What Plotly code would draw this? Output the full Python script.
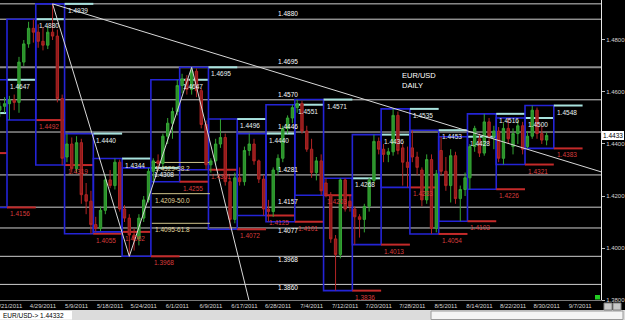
import plotly.graph_objects as go

# ---------------- data ----------------
bars = list(range(-2, 113))
opens = [1.4530, 1.4545, 1.4555, 1.4570, 1.4560, 1.4715, 1.4785, 1.4845, 1.4830, 1.4795,
         1.4780, 1.4830, 1.4815, 1.4575, 1.4350, 1.4400, 1.4305, 1.4405, 1.4205, 1.4180,
         1.4090, 1.4075, 1.4145, 1.4262, 1.4240, 1.4330, 1.4150, 1.4115, 1.4050, 1.4035,
         1.4115, 1.4185, 1.4295, 1.4335, 1.4325, 1.4430, 1.4480, 1.4525, 1.4625, 1.4650,
         1.4610, 1.4680, 1.4605, 1.4475, 1.4320, 1.4335, 1.4400, 1.4425, 1.4255, 1.4110,
         1.4270, 1.4255, 1.4375, 1.4400, 1.4335, 1.4265, 1.4150, 1.4140, 1.4300, 1.4345,
         1.4460, 1.4500, 1.4540, 1.4555, 1.4450, 1.4380, 1.4290, 1.4335, 1.4250, 1.4205,
         1.4035, 1.3975, 1.4262, 1.4180, 1.4150, 1.4120, 1.4110, 1.4160, 1.4260, 1.4410,
         1.4380, 1.4360, 1.4370, 1.4510, 1.4385, 1.4330, 1.4385, 1.4350, 1.4300, 1.4185,
         1.4340, 1.4075, 1.4375, 1.4295, 1.4240, 1.4355, 1.4190, 1.4225, 1.4270, 1.4390,
         1.4420, 1.4365, 1.4485, 1.4430, 1.4450, 1.4345, 1.4460, 1.4390, 1.4440, 1.4470,
         1.4390, 1.4430, 1.4530, 1.4440, 1.4415]
highs = [1.4560, 1.4580, 1.4585, 1.4590, 1.4735, 1.4800, 1.4870, 1.4880, 1.4860, 1.4850,
         1.4850, 1.4939, 1.4840, 1.4590, 1.4440, 1.4425, 1.4430, 1.4420, 1.4250, 1.4220,
         1.4120, 1.4160, 1.4280, 1.4300, 1.4344, 1.4340, 1.4165, 1.4130, 1.4075, 1.4130,
         1.4200, 1.4308, 1.4345, 1.4360, 1.4440, 1.4500, 1.4540, 1.4647, 1.4670, 1.4665,
         1.4695, 1.4690, 1.4615, 1.4490, 1.4345, 1.4420, 1.4496, 1.4440, 1.4270, 1.4290,
         1.4310, 1.4390, 1.4440, 1.4420, 1.4340, 1.4280, 1.4185, 1.4310, 1.4360, 1.4470,
         1.4510, 1.4551, 1.4571, 1.4565, 1.4470, 1.4420, 1.4350, 1.4360, 1.4268, 1.4215,
         1.4050, 1.4268, 1.4268, 1.4200, 1.4160, 1.4130, 1.4170, 1.4270, 1.4436, 1.4425,
         1.4400, 1.4385, 1.4535, 1.4525, 1.4400, 1.4390, 1.4453, 1.4370, 1.4310, 1.4360,
         1.4360, 1.4300, 1.4428, 1.4350, 1.4380, 1.4370, 1.4240, 1.4290, 1.4400, 1.4470,
         1.4440, 1.4516, 1.4500, 1.4470, 1.4465, 1.4480, 1.4500, 1.4460, 1.4490, 1.4485,
         1.4450, 1.4548, 1.4540, 1.4470, 1.4445]
lows = [1.4505, 1.4520, 1.4492, 1.4530, 1.4520, 1.4700, 1.4770, 1.4790, 1.4770, 1.4760,
        1.4765, 1.4800, 1.4560, 1.4319, 1.4330, 1.4290, 1.4290, 1.4170, 1.4130, 1.4055,
        1.4062, 1.4065, 1.4130, 1.4230, 1.4225, 1.4140, 1.4100, 1.3968, 1.3990, 1.4010,
        1.4100, 1.4175, 1.4255, 1.4300, 1.4310, 1.4400, 1.4420, 1.4510, 1.4595, 1.4590,
        1.4590, 1.4580, 1.4460, 1.4301, 1.4290, 1.4320, 1.4385, 1.4240, 1.4072, 1.4095,
        1.4240, 1.4240, 1.4355, 1.4320, 1.4250, 1.4125, 1.4101, 1.4120, 1.4280, 1.4330,
        1.4440, 1.4480, 1.4520, 1.4440, 1.4370, 1.4270, 1.4260, 1.4203, 1.4195, 1.4020,
        1.3836, 1.3960, 1.4140, 1.4140, 1.4013, 1.4040, 1.4060, 1.4140, 1.4250, 1.4360,
        1.4330, 1.4330, 1.4355, 1.4360, 1.4240, 1.4233, 1.4330, 1.4280, 1.4160, 1.4170,
        1.4054, 1.4060, 1.4280, 1.4220, 1.4175, 1.4170, 1.4103, 1.4200, 1.4226, 1.4370,
        1.4350, 1.4355, 1.4400, 1.4380, 1.4330, 1.4321, 1.4400, 1.4360, 1.4400, 1.4360,
        1.4383, 1.4420, 1.4420, 1.4400, 1.4395]
closes = [1.4545, 1.4555, 1.4570, 1.4560, 1.4715, 1.4785, 1.4845, 1.4830, 1.4795, 1.4780,
          1.4830, 1.4815, 1.4575, 1.4345, 1.4400, 1.4305, 1.4405, 1.4205, 1.4180, 1.4090,
          1.4075, 1.4145, 1.4262, 1.4240, 1.4330, 1.4150, 1.4115, 1.4050, 1.4035, 1.4115,
          1.4185, 1.4295, 1.4335, 1.4325, 1.4430, 1.4480, 1.4525, 1.4625, 1.4650, 1.4610,
          1.4680, 1.4605, 1.4475, 1.4320, 1.4335, 1.4400, 1.4425, 1.4255, 1.4110, 1.4270,
          1.4255, 1.4375, 1.4400, 1.4335, 1.4265, 1.4150, 1.4140, 1.4300, 1.4345, 1.4460,
          1.4500, 1.4540, 1.4555, 1.4450, 1.4380, 1.4290, 1.4335, 1.4220, 1.4205, 1.4035,
          1.3975, 1.4262, 1.4150, 1.4160, 1.4120, 1.4110, 1.4160, 1.4260, 1.4410, 1.4380,
          1.4360, 1.4370, 1.4510, 1.4375, 1.4330, 1.4310, 1.4350, 1.4310, 1.4185, 1.4340,
          1.4075, 1.4285, 1.4295, 1.4240, 1.4355, 1.4190, 1.4225, 1.4270, 1.4390, 1.4460,
          1.4365, 1.4485, 1.4430, 1.4450, 1.4345, 1.4460, 1.4420, 1.4440, 1.4470, 1.4380,
          1.4430, 1.4530, 1.4440, 1.4415, 1.4433]

tick_bars = [0, 7, 14, 21, 28, 35, 42, 49, 56, 63, 70, 77, 84, 91, 98, 105, 112, 119]
tick_dates = ["4/21/2011", "4/29/2011", "5/9/2011", "5/18/2011", "5/24/2011", "6/1/2011",
              "6/9/2011", "6/17/2011", "6/28/2011", "7/4/2011", "7/12/2011", "7/20/2011",
              "7/28/2011", "8/5/2011", "8/14/2011", "8/22/2011", "8/30/2011", "9/7/2011"]

weeks = list(range(-1, 20))
week_high = [1.4519, 1.4647, 1.4880, 1.4939, 1.4440, 1.4344, 1.4308, 1.4647, 1.4695, 1.4496,
             1.4440, 1.4551, 1.4571, 1.4268, 1.4436, 1.4535, 1.4453, 1.4428, 1.4516, 1.4500,
             1.4548]
week_low = [1.4365, 1.4156, 1.4492, 1.4319, 1.4055, 1.4062, 1.3968, 1.4255, 1.4301, 1.4072,
            1.4125, 1.4101, 1.4203, 1.3836, 1.4013, 1.4233, 1.4054, 1.4103, 1.4226, 1.4321,
            1.4383]

levels = [1.4939, 1.4880, 1.4695, 1.4570, 1.4446, 1.4281, 1.4157, 1.4077, 1.3968, 1.3860]
level_labels = ["", "1.4880", "1.4695", "1.4570", "1.4446", "1.4281", "1.4157", "1.4077",
                "1.3968", "1.3860"]

fib_prices = [1.4329, 1.4209, 1.4095]
fib_pcts = ["38.2", "50.0", "61.8"]
fib_span = [29.7, 41.8]

zigzag_bars = [9, 25, 38, 51]
zigzag_prices = [1.4939, 1.3968, 1.4695, 1.3720]
trend_bars = [9, 112]
trend_prices = [1.4939, 1.4357]

price_ticks = [1.38, 1.40, 1.42, 1.44, 1.46, 1.48]
last_price = 1.44332
symbol = "EUR/USD"

# ---------------- figure ----------------
X_RANGE = [-1.959, 123.34]
Y_RANGE = [1.3800, 1.49538]
FONT = "Liberation Sans"
LEVEL_LABEL_X = 58.0
DATE_FONT = dict(color="#d4d4d4", size=6, family=FONT)

fig = go.Figure()
fig.add_trace(go.Candlestick(
    x=bars, open=opens, high=highs, low=lows, close=closes,
    increasing=dict(line=dict(color="#34a534", width=1), fillcolor="#2b8f2b"),
    decreasing=dict(line=dict(color="#b22424", width=1), fillcolor="#8e1b1b"),
    whiskerwidth=0, hoverinfo="skip"))

# zigzag and trend lines
fig.add_trace(go.Scatter(x=zigzag_bars, y=zigzag_prices, mode="lines",
                         line=dict(color="#d8d8d8", width=1), hoverinfo="skip"))
slope = (trend_prices[1] - trend_prices[0]) / (trend_bars[1] - trend_bars[0])
tx = [trend_bars[0], X_RANGE[1] + 1]
ty = [trend_prices[0], trend_prices[0] + slope * (tx[1] - trend_bars[0])]
fig.add_trace(go.Scatter(x=tx, y=ty, mode="lines",
                         line=dict(color="#d8d8d8", width=1), hoverinfo="skip"))

shapes = []
annots = []

# full-width levels
for lv, lab in zip(levels, level_labels):
    thick = lab == "1.4695"
    shapes.append(dict(type="line", xref="paper", x0=0, x1=1, yref="y", y0=lv, y1=lv,
                       line=dict(color="#8c8c8c" if thick else "#cfcfcf", width=2 if thick else 1),
                       layer="below"))
    if lab:
        upper = lv > 1.41
        annots.append(dict(x=LEVEL_LABEL_X, y=lv, xref="x", yref="y", text=lab, showarrow=False,
                           xanchor="center", yanchor="bottom" if upper else "middle",
                           yshift=0 if upper else -3,
                           font=dict(color="white", size=6.5, family=FONT)))

# weekly boxes + previous-week high/low lines
for k, hi, lo in zip(weeks, week_high, week_low):
    bx0, bx1 = 6 * k - 6.5, 6 * k - 0.5
    shapes.append(dict(type="rect", xref="x", yref="y", x0=bx0, x1=bx1, y0=lo, y1=hi,
                       line=dict(color="#2424d6", width=1.6), layer="below"))
    nx0, nx1 = 6 * k - 0.5, 6 * k + 5.5
    shapes.append(dict(type="line", xref="x", yref="y", x0=nx0, x1=nx1, y0=hi, y1=hi,
                       line=dict(color="#a8e2de", width=2), layer="below"))
    shapes.append(dict(type="line", xref="x", yref="y", x0=nx0, x1=nx1, y0=lo, y1=lo,
                       line=dict(color="#c42a2a", width=2), layer="below"))
    if nx0 > X_RANGE[0]:
        annots.append(dict(x=nx0, y=hi, xref="x", yref="y", text=f"{hi:.4f}", showarrow=False,
                           xanchor="left", yanchor="top", xshift=1, yshift=-1,
                           font=dict(color="#e8f4f4", size=6.5, family=FONT)))
        annots.append(dict(x=nx0, y=lo, xref="x", yref="y", text=f"{lo:.4f}", showarrow=False,
                           xanchor="left", yanchor="top", xshift=1, yshift=-1,
                           font=dict(color="#d83c3c", size=6.5, family=FONT)))

# fibonacci
for fp, pct in zip(fib_prices, fib_pcts):
    shapes.append(dict(type="line", xref="x", yref="y", x0=fib_span[0], x1=fib_span[1],
                       y0=fp, y1=fp, line=dict(color="#cfc48a", width=1), layer="below"))
    annots.append(dict(x=fib_span[0], y=fp, xref="x", yref="y", text=f"{fp:.4f}-{pct}",
                       showarrow=False, xanchor="left", yanchor="top", xshift=1, yshift=-1,
                       font=dict(color="#e2d89c", size=6.5, family=FONT)))

# symbol caption
annots.append(dict(x=81.4, y=1.4690, xref="x", yref="y", text=f"{symbol}<br>DAILY",
                   showarrow=False, xanchor="left", yanchor="top", align="left",
                   font=dict(color="white", size=7.5, family=FONT)))

# first date label, partly cut off by the left edge (as in the source)
annots.append(dict(x=tick_bars[0], y=0, xref="x", yref="paper", text=tick_dates[0],
                   showarrow=False, xanchor="center", yanchor="top", yshift=-1,
                   font=DATE_FONT))

# current price box on the right axis
annots.append(dict(x=1, y=last_price, xref="paper", yref="y", text=f"{last_price:.4f}",
                   showarrow=False, xanchor="left", yanchor="middle", xshift=1,
                   bgcolor="white", borderpad=0, bordercolor="white",
                   font=dict(color="black", size=6.5, family=FONT)))

# status bar at the bottom
PH = 300.0
shapes.append(dict(type="rect", xref="paper", yref="paper", x0=0, x1=625 / 601,
                   y0=-20 / PH, y1=-10 / PH, fillcolor="#dcdcdc", line=dict(width=0)))
shapes.append(dict(type="rect", xref="paper", yref="paper", x0=0, x1=72 / 601,
                   y0=-19.5 / PH, y1=-11 / PH, fillcolor="white", line=dict(width=0)))
shapes.append(dict(type="rect", xref="paper", yref="paper", x0=431 / 601, x1=623 / 601,
                   y0=-19.5 / PH, y1=-11 / PH, fillcolor="#f4f4f4",
                   line=dict(color="#9a9a9a", width=1)))
annots.append(dict(x=1 / 601, y=-15.5 / PH, xref="paper", yref="paper",
                   text=f"{symbol}-> {last_price:.5f}", showarrow=False,
                   xanchor="left", yanchor="middle",
                   font=dict(color="black", size=6.5, family=FONT)))
# small decorations near the right axis
shapes.append(dict(type="rect", xref="paper", yref="paper", x0=595 / 601, x1=600 / 601,
                   y0=0.5 / PH, y1=5 / PH, fillcolor="#22cc22", line=dict(width=0)))
shapes.append(dict(type="rect", xref="paper", yref="paper", x0=604 / 601, x1=612 / 601,
                   y0=-10 / PH, y1=-3 / PH, fillcolor="#c8c8c8", line=dict(color="#808080", width=1)))
shapes.append(dict(type="rect", xref="paper", yref="paper", x0=613 / 601, x1=621 / 601,
                   y0=-10 / PH, y1=-3 / PH, fillcolor="#c8c8c8", line=dict(color="#808080", width=1)))

fig.update_layout(
    width=625, height=320,
    margin=dict(l=0, r=24, t=0, b=20, autoexpand=False),
    paper_bgcolor="black", plot_bgcolor="black",
    showlegend=False,
    shapes=shapes, annotations=annots,
    xaxis=dict(range=X_RANGE, tickmode="array", tickvals=tick_bars[1:], ticktext=tick_dates[1:],
               tickangle=0, showgrid=False, zeroline=False, rangeslider=dict(visible=False),
               showline=True, linecolor="#7a7a7a", linewidth=1, ticks="",
               automargin=False, tickfont=DATE_FONT),
    yaxis=dict(range=Y_RANGE, side="right", tickmode="array", tickvals=price_ticks,
               ticktext=[f"{v:.4f}" for v in price_ticks], showgrid=False, zeroline=False,
               showline=True, linecolor="#e8e8e8", linewidth=1, ticks="outside", ticklen=3,
               automargin=False,
               tickcolor="#bdbdbd", tickfont=dict(color="#d4d4d4", size=6, family=FONT)),
)

fig.write_html("out.html")
